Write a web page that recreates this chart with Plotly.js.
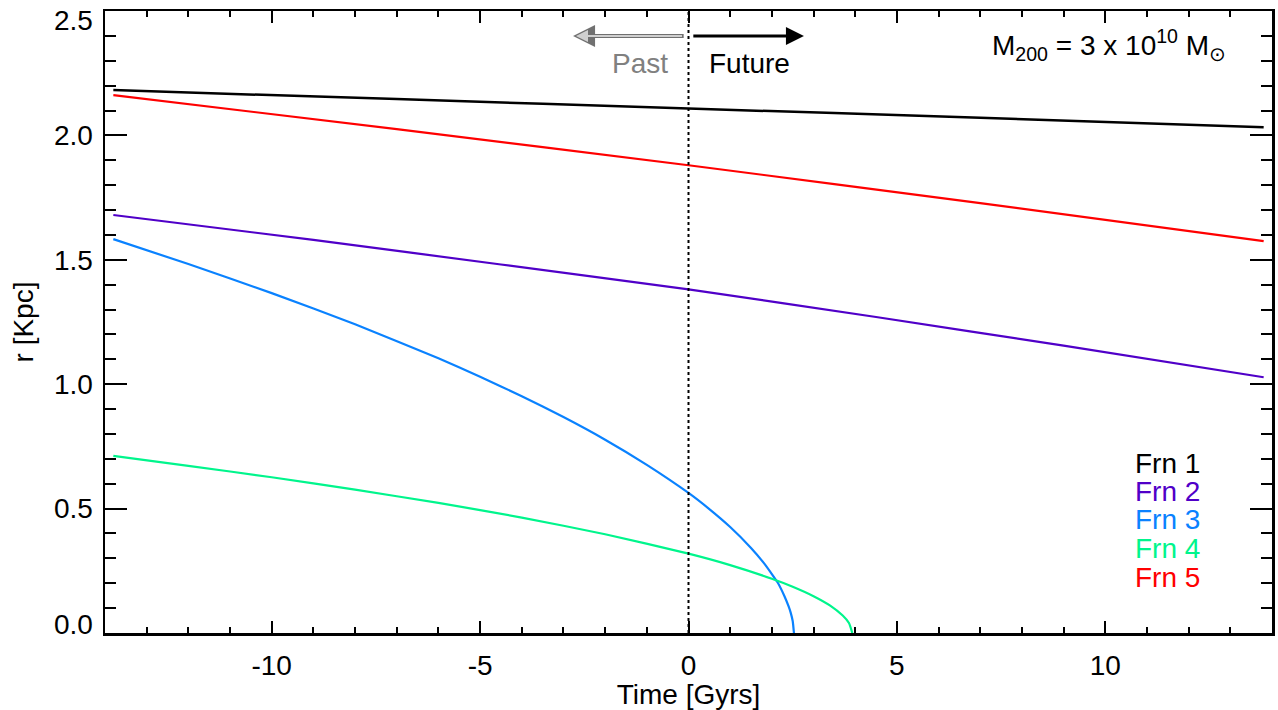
<!DOCTYPE html>
<html>
<head>
<meta charset="utf-8">
<script src="https://cdn.plot.ly/plotly-3.0.1.min.js"></script>
<style>html,body{margin:0;padding:0;background:#fff;}#chart{width:1278px;height:710px;}</style>
</head>
<body>
<div id="chart"></div>
<script>
// Series data (time in Gyr, radius in kpc)
const t1 = [-13.8, -7, 0, 7, 13.8];
const r1 = [2.182, 2.146, 2.108, 2.071, 2.033];

const t2 = [-13.8, -9, -4.5, 0, 4.5, 9, 13.8];
const r2 = [1.680, 1.580, 1.481, 1.381, 1.270, 1.155, 1.028];

const t3 = [-13.8, -12, -10, -8, -6, -5, -4, -3, -2, -1, 0, 0.5, 1.0, 1.5, 1.81, 2.0, 2.15, 2.3, 2.4, 2.45, 2.5, 2.53];
const r3 = [1.583, 1.483, 1.366, 1.241, 1.104, 1.030, 0.952, 0.868, 0.777, 0.676, 0.563, 0.498, 0.426, 0.342, 0.281, 0.237, 0.200, 0.149, 0.108, 0.083, 0.048, 0.0];

const t4 = [-13.8, -12, -10, -8, -6, -4, -2, 0, 1, 2, 2.5, 3, 3.4, 3.7, 3.85, 3.93];
const r4 = [0.712, 0.672, 0.626, 0.576, 0.523, 0.464, 0.397, 0.319, 0.273, 0.218, 0.186, 0.148, 0.110, 0.070, 0.040, 0.0];

const t5 = [-13.8, -7, 0, 7, 13.8];
const r5 = [2.162, 2.025, 1.880, 1.728, 1.575];

const names = ['Frn 1', 'Frn 2', 'Frn 3', 'Frn 4', 'Frn 5'];
const colors = ['#000000', '#5000c8', '#0a82ff', '#00f58c', '#ff0000'];
const xTickVals = [-10, -5, 0, 5, 10];
const xTickText = ['-10', '-5', '0', '5', '10'];
// inner y labels drawn as ticks; the end labels (0.0, 2.5) are nudged inside like the original
const yTickVals = [0, 0.5, 1.0, 1.5, 2.0, 2.5];
const yTickText = ['', '0.5', '1.0', '1.5', '2.0', ''];
const yEndLabels = ['0.0', '2.5'];

const xs = [t1, t2, t3, t4, t5];
const ys = [r1, r2, r3, r4, r5];
const widths = [2.5, 2.2, 2.2, 2.2, 2.2];

const FONT = 'Liberation Sans, Arial, Helvetica, sans-serif';
const FS = 28;

const traces = xs.map((x, i) => ({
  x: x, y: ys[i], type: 'scatter', mode: 'lines', name: names[i],
  line: {color: colors[i], width: widths[i], shape: 'spline', smoothing: 0.5},
  showlegend: false, hoverinfo: 'skip'
}));

const legendY = [0.273, 0.228, 0.183, 0.136, 0.089];
const annotations = names.map((n, i) => ({
  text: n, xref: 'paper', yref: 'paper', x: 0.881, y: legendY[i],
  xanchor: 'left', yanchor: 'middle', showarrow: false,
  font: {family: FONT, size: FS, color: colors[i]}
}));

// y end labels
annotations.push({
  text: yEndLabels[0], xref: 'paper', yref: 'paper', x: -0.0086, y: 0.014,
  xanchor: 'right', yanchor: 'middle', showarrow: false, font: {family: FONT, size: FS, color: '#000'}
});
annotations.push({
  text: yEndLabels[1], xref: 'paper', yref: 'paper', x: -0.0086, y: 0.9855,
  xanchor: 'right', yanchor: 'middle', showarrow: false, font: {family: FONT, size: FS, color: '#000'}
});

// Arrows
annotations.push({
  x: -2.77, y: 2.40, ax: -0.08, ay: 2.40, xref: 'x', yref: 'y', axref: 'x', ayref: 'y',
  text: '', showarrow: true, arrowhead: 2, arrowsize: 1.1, arrowwidth: 4, arrowcolor: '#707070'
});
annotations.push({
  x: -2.70, y: 2.40, ax: -0.12, ay: 2.40, xref: 'x', yref: 'y', axref: 'x', ayref: 'y',
  text: '', showarrow: true, arrowhead: 2, arrowsize: 1.2, arrowwidth: 2, arrowcolor: '#cfcfcf'
});
annotations.push({
  x: 2.77, y: 2.40, ax: 0.08, ay: 2.40, xref: 'x', yref: 'y', axref: 'x', ayref: 'y',
  text: '', showarrow: true, arrowhead: 2, arrowsize: 1.2, arrowwidth: 3, arrowcolor: '#000000'
});
annotations.push({
  text: 'Past', x: -0.45, y: 2.29, xref: 'x', yref: 'y', xanchor: 'right', yanchor: 'middle',
  showarrow: false, font: {family: FONT, size: FS, color: '#808080'}
});
annotations.push({
  text: 'Future', x: 0.45, y: 2.29, xref: 'x', yref: 'y', xanchor: 'left', yanchor: 'middle',
  showarrow: false, font: {family: FONT, size: FS, color: '#000000'}
});
annotations.push({
  text: 'M<sub>200</sub> = 3 x 10<sup>10</sup> M<sub>⊙</sub>', x: 0.962, y: 0.945,
  xref: 'paper', yref: 'paper', xanchor: 'right', yanchor: 'middle', showarrow: false,
  font: {family: FONT, size: FS, color: '#000000'}
});

const layout = {
  width: 1278, height: 710,
  margin: {l: 105, r: 6, t: 11, b: 77},
  paper_bgcolor: '#ffffff', plot_bgcolor: '#ffffff',
  font: {family: FONT, size: FS, color: '#000000'},
  xaxis: {
    range: [-14, 14], showgrid: false, zeroline: false,
    showline: true, linecolor: '#000', linewidth: 2.5, mirror: 'ticks',
    ticks: 'inside', ticklen: 12, tickwidth: 2, tickcolor: '#000',
    tickmode: 'array', tickvals: xTickVals, ticktext: xTickText,
    tickfont: {family: FONT, size: FS},
    ticklabelstandoff: 6,
    minor: {tickmode: 'linear', tick0: 0, dtick: 1, ticks: 'inside', ticklen: 6, tickwidth: 2, tickcolor: '#000', showgrid: false},
    title: {text: 'Time [Gyrs]', font: {family: FONT, size: FS}, standoff: 0}
  },
  yaxis: {
    range: [0, 2.5], showgrid: false, zeroline: false,
    showline: true, linecolor: '#000', linewidth: 2.5, mirror: 'ticks',
    ticks: 'inside', ticklen: 22, tickwidth: 2, tickcolor: '#000',
    tickmode: 'array', tickvals: yTickVals, ticktext: yTickText,
    tickfont: {family: FONT, size: FS},
    ticklabelstandoff: 4,
    minor: {tickmode: 'linear', tick0: 0, dtick: 0.1, ticks: 'inside', ticklen: 11, tickwidth: 2, tickcolor: '#000', showgrid: false},
    title: {text: 'r [Kpc]', font: {family: FONT, size: FS}, standoff: 12}
  },
  shapes: [{
    type: 'line', xref: 'x', yref: 'paper', x0: 0, x1: 0, y0: 0, y1: 1,
    line: {color: '#000', width: 2, dash: 'dot'}
  }],
  annotations: annotations
};

Plotly.newPlot('chart', traces, layout, {displayModeBar: false, staticPlot: true});
</script>
</body>
</html>
